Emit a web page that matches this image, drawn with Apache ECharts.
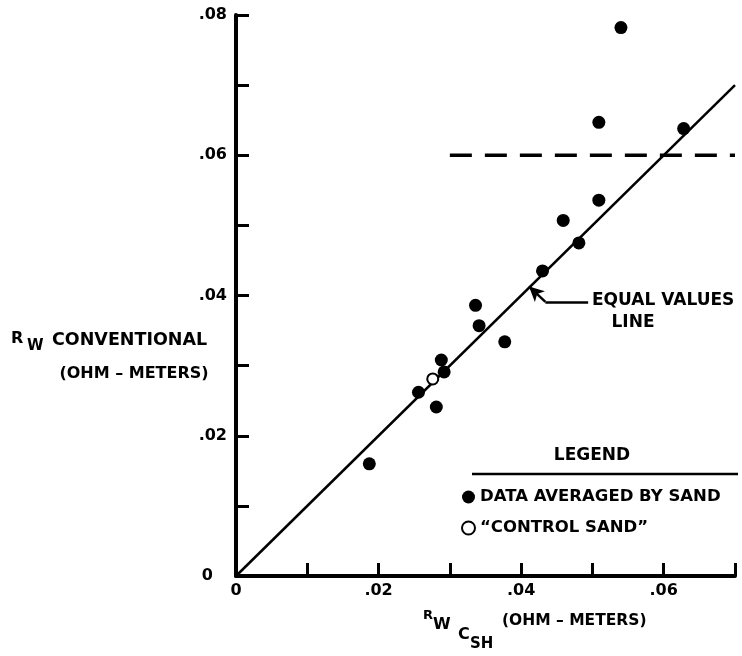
<!DOCTYPE html>
<html>
<head>
<meta charset="utf-8">
<script src="https://cdn.jsdelivr.net/npm/echarts@6/dist/echarts.min.js"></script>
<style>
  html, body { margin: 0; padding: 0; background: #fff; }
  #chart { width: 742px; height: 656px; }
</style>
</head>
<body>
<div id="chart"></div>
<script>
// Rw from the Csh method (x) against conventional Rw (y), ohm-meters
const sandX = [0.0187, 0.0256, 0.0281, 0.0288, 0.0292, 0.0336, 0.0341, 0.0377, 0.0430, 0.0459, 0.0481, 0.0509, 0.0509, 0.0540, 0.0628];
const sandY = [0.0160, 0.0262, 0.0241, 0.0308, 0.0291, 0.0386, 0.0357, 0.0334, 0.0435, 0.0507, 0.0475, 0.0536, 0.0647, 0.0782, 0.0638];
const controlX = [0.0276];
const controlY = [0.0281];

// Equal values line and the dashed 0.06 limit
const equalX = [0, 0.07];
const equalY = [0, 0.07];
const limitX = [0.03, 0.07];
const limitY = [0.06, 0.06];

// Leader arrow for the "equal values" label: label end, bend, tip
const leaderX = [0.0494, 0.0434, 0.0411];
const leaderY = [0.0391, 0.0391, 0.0413];

// Tick labels, one per 0.01 step
const xTickLabels = ['0', '', '.02', '', '.04', '', '.06', ''];
const yTickLabels = ['0', '', '.02', '', '.04', '', '.06', '', '.08'];

const FONT = 'DejaVu Sans';
const zip = (xs, ys) => xs.map((x, i) => [x, ys[i]]);

const chart = echarts.init(document.getElementById('chart'), null, { renderer: 'canvas' });

const txt = (x, y, text, size, align) => ({
  type: 'text', x: x, y: y,
  style: {
    text: text, fill: '#000', align: align || 'left', verticalAlign: 'middle',
    font: 'bold ' + size + 'px "' + FONT + '"'
  }
});

const option = {
  backgroundColor: '#fff',
  animation: false,
  grid: { left: 236, right: 7, top: 15, bottom: 80, containLabel: false },
  xAxis: {
    type: 'value', min: 0, max: 0.07, interval: 0.01,
    axisLine: { show: true, onZero: false, lineStyle: { color: '#000', width: 4 } },
    axisTick: { show: true, inside: true, length: 13, lineStyle: { color: '#000', width: 3 } },
    splitLine: { show: false },
    axisLabel: {
      margin: 7, color: '#000', fontFamily: FONT, fontWeight: 'bold', fontSize: 16,
      showMaxLabel: true, showMinLabel: true,
      formatter: v => xTickLabels[Math.round(v / 0.01)] || ''
    }
  },
  yAxis: {
    type: 'value', min: 0, max: 0.08, interval: 0.01,
    axisLine: { show: true, onZero: false, lineStyle: { color: '#000', width: 4 } },
    axisTick: { show: true, inside: true, length: 13, lineStyle: { color: '#000', width: 3 } },
    splitLine: { show: false },
    axisLabel: {
      margin: 9, color: '#000', fontFamily: FONT, fontWeight: 'bold', fontSize: 16,
      formatter: v => {
        const s = yTickLabels[Math.round(v / 0.01)] || '';
        return s === '0' ? '{z|0}' : s;
      },
      rich: { z: { fontFamily: FONT, fontWeight: 'bold', fontSize: 16, color: '#000', padding: [0, 14, 0, 0] } }
    }
  },
  legend: {
    orient: 'vertical', left: 456, top: 483,
    itemWidth: 13, itemHeight: 13, itemGap: 13,
    textStyle: { color: '#000', fontFamily: FONT, fontWeight: 'bold', fontSize: 16.5, lineHeight: 18 },
    data: ['DATA AVERAGED BY SAND', '\u201CCONTROL SAND\u201D']
  },
  series: [
    {
      name: 'equal', type: 'line', data: zip(equalX, equalY), symbol: 'none',
      lineStyle: { color: '#000', width: 2.5 }, z: 2
    },
    {
      name: 'limit', type: 'line', data: zip(limitX, limitY), symbol: 'none',
      lineStyle: { color: '#000', width: 3.5, type: [22, 13] }, z: 2
    },
    {
      name: 'leader', type: 'line', data: [], symbol: 'none',
      markLine: {
        silent: true, animation: false,
        lineStyle: { color: '#000', width: 2.5, type: 'solid' },
        label: { show: false },
        symbolSize: [11, 15],
        data: [
          [ { coord: [leaderX[0], leaderY[0]], symbol: 'none' }, { coord: [leaderX[1], leaderY[1]], symbol: 'none' } ],
          [ { coord: [leaderX[1], leaderY[1]], symbol: 'none' }, { coord: [leaderX[2], leaderY[2]], symbol: 'arrow' } ]
        ]
      }
    },
    {
      name: 'DATA AVERAGED BY SAND', type: 'scatter', data: zip(sandX, sandY),
      symbol: 'circle', symbolSize: 13,
      itemStyle: { color: '#000', opacity: 1 }, z: 3
    },
    {
      name: '\u201CCONTROL SAND\u201D', type: 'scatter', data: zip(controlX, controlY),
      symbol: 'circle', symbolSize: 11,
      itemStyle: { color: '#fff', borderColor: '#000', borderWidth: 2, opacity: 1 }, z: 4
    }
  ],
  graphic: [
    // y-axis title
    txt(11, 339, 'R', 16),
    txt(27, 346, 'W', 15),
    txt(52, 340, 'CONVENTIONAL', 17.5),
    txt(134, 374, '(OHM \u2013 METERS)', 16, 'center'),
    // x-axis title
    txt(423, 616, 'R', 13),
    txt(433, 625, 'W', 16),
    txt(458, 635, 'C', 16),
    txt(470, 644, 'SH', 15),
    txt(502, 621, '(OHM \u2013 METERS)', 15.5),
    // equal values label
    txt(592, 301, 'EQUAL VALUES', 17),
    txt(633, 323, 'LINE', 17, 'center'),
    // legend heading and rule
    txt(592, 456, 'LEGEND', 17, 'center'),
    { type: 'line', shape: { x1: 472, y1: 474, x2: 738, y2: 474 }, style: { stroke: '#000', lineWidth: 2.5 } }
  ]
};

chart.setOption(option);
</script>
</body>
</html>
